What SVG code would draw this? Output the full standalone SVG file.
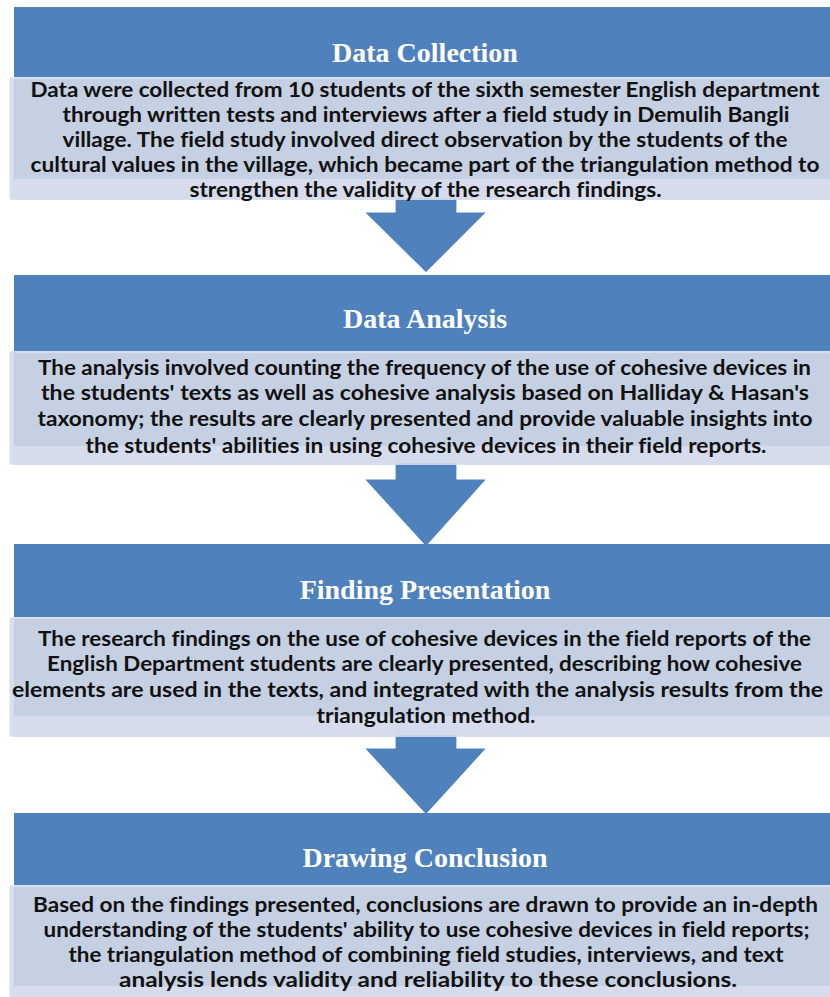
<svg xmlns="http://www.w3.org/2000/svg" width="830" height="997" viewBox="0 0 830 997">
<style>
.hdr{fill:#4f81bd}
.outer{fill:#d4dbea}
.inner{fill:#c5d0e3}
.band{fill:#d6dcec;opacity:0.85}
.arrow{fill:#4f81bd;stroke:#ffffff;stroke-width:1.2}
.ht{font-family:"Liberation Serif","Times New Roman",serif;font-weight:700;font-size:28px;fill:#ffffff;text-anchor:middle}
.bt{font-family:Lato,"Liberation Sans",sans-serif;font-weight:700;font-size:21px;fill:#111111;text-anchor:middle;font-variant-ligatures:none}
</style>
<rect width="830" height="997" fill="#ffffff"/>
<g id="connectors">
<polygon class="arrow" points="395,178 457,178 457,212 487,212 426,273 364,212 395,212"/>
<polygon class="arrow" points="395,445 457,445 457,479 487,479 426,547 364,479 395,479"/>
<polygon class="arrow" points="395,715 457,715 457,748 487,748 426,815 364,748 395,748"/>
</g>
<g id="node-data-collection">
<rect class="hdr" x="14" y="7" width="820" height="70"/>
<text class="ht" x="425" y="62">Data Collection</text>
<rect class="outer" x="9.5" y="77" width="825" height="123" rx="3" opacity="0.9"/>
<rect class="inner" x="14" y="79" width="820" height="100"/>
<rect class="band" x="14" y="179" width="820" height="19"/>
<text class="bt" x="425" y="97" textLength="789" lengthAdjust="spacingAndGlyphs">Data were collected from 10 students of the sixth semester English department</text>
<text class="bt" x="426" y="122" textLength="727" lengthAdjust="spacingAndGlyphs">through written tests and interviews after a field study in Demulih Bangli</text>
<text class="bt" x="425" y="147" textLength="725" lengthAdjust="spacingAndGlyphs">village. The field study involved direct observation by the students of the</text>
<text class="bt" x="425" y="172" textLength="789" lengthAdjust="spacingAndGlyphs">cultural values in the village, which became part of the triangulation method to</text>
<text class="bt" x="425.5" y="197" textLength="472" lengthAdjust="spacingAndGlyphs">strengthen the validity of the research findings.</text>
</g>
<g id="node-data-analysis">
<rect class="hdr" x="14" y="275" width="820" height="76"/>
<text class="ht" x="425" y="328">Data Analysis</text>
<rect class="outer" x="9.5" y="351" width="825" height="114" rx="3" opacity="0.9"/>
<rect class="inner" x="14" y="353" width="820" height="93"/>
<rect class="band" x="14" y="446" width="820" height="17"/>
<text class="bt" x="424.5" y="375" textLength="773" lengthAdjust="spacingAndGlyphs">The analysis involved counting the frequency of the use of cohesive devices in</text>
<text class="bt" x="425" y="400" textLength="768" lengthAdjust="spacingAndGlyphs">the students' texts as well as cohesive analysis based on Halliday &amp; Hasan's</text>
<text class="bt" x="425" y="426" textLength="775" lengthAdjust="spacingAndGlyphs">taxonomy; the results are clearly presented and provide valuable insights into</text>
<text class="bt" x="426" y="453" textLength="681" lengthAdjust="spacingAndGlyphs">the students' abilities in using cohesive devices in their field reports.</text>
</g>
<g id="node-finding-presentation">
<rect class="hdr" x="14" y="544" width="820" height="73"/>
<text class="ht" x="425" y="599">Finding Presentation</text>
<rect class="outer" x="9.5" y="617" width="825" height="120" rx="3" opacity="0.9"/>
<rect class="inner" x="14" y="619" width="820" height="97"/>
<rect class="band" x="14" y="716" width="820" height="19"/>
<text class="bt" x="424.5" y="646" textLength="773" lengthAdjust="spacingAndGlyphs">The research findings on the use of cohesive devices in the field reports of the</text>
<text class="bt" x="424.5" y="671" textLength="755" lengthAdjust="spacingAndGlyphs">English Department students are clearly presented, describing how cohesive</text>
<text class="bt" x="417.5" y="697" textLength="811" lengthAdjust="spacingAndGlyphs">elements are used in the texts, and integrated with the analysis results from the</text>
<text class="bt" x="426" y="723" textLength="219" lengthAdjust="spacingAndGlyphs">triangulation method.</text>
</g>
<g id="node-drawing-conclusion">
<rect class="hdr" x="14" y="813" width="820" height="72"/>
<text class="ht" x="425" y="867">Drawing Conclusion</text>
<rect class="outer" x="9.5" y="885" width="825" height="115" rx="3" opacity="0.9"/>
<rect class="inner" x="14" y="887" width="820" height="99"/>
<rect class="band" x="14" y="986" width="820" height="14"/>
<text class="bt" x="425.5" y="912" textLength="785" lengthAdjust="spacingAndGlyphs">Based on the findings presented, conclusions are drawn to provide an in-depth</text>
<text class="bt" x="426.5" y="937" textLength="766" lengthAdjust="spacingAndGlyphs">understanding of the students' ability to use cohesive devices in field reports;</text>
<text class="bt" x="426" y="962" textLength="715" lengthAdjust="spacingAndGlyphs">the triangulation method of combining field studies, interviews, and text</text>
<text class="bt" x="428" y="987" textLength="618" lengthAdjust="spacingAndGlyphs">analysis lends validity and reliability to these conclusions.</text>
</g>
</svg>
